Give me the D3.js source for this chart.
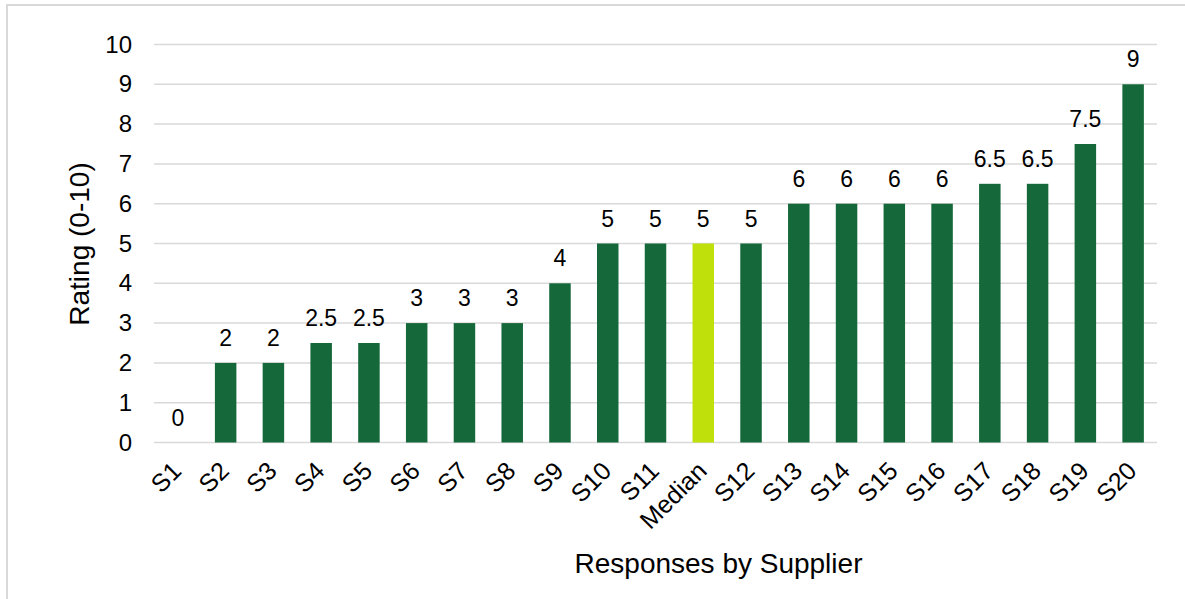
<!DOCTYPE html>
<html>
<head>
<meta charset="utf-8">
<script src="https://cdn.jsdelivr.net/npm/d3@7"></script>
<style>
  html, body { margin: 0; padding: 0; background: #fff; }
  svg { display: block; font-family: "Liberation Sans", Arial, sans-serif; }
</style>
</head>
<body>
<svg id="chart" width="1185" height="599"></svg>
<script>
// Supplier ratings, sorted ascending with the median slotted in
const categories = ["S1","S2","S3","S4","S5","S6","S7","S8","S9","S10","S11","Median","S12","S13","S14","S15","S16","S17","S18","S19","S20"];
const ratings    = [0, 2, 2, 2.5, 2.5, 3, 3, 3, 4, 5, 5, 5, 5, 6, 6, 6, 6, 6.5, 6.5, 7.5, 9];
const yTicks     = [0,1,2,3,4,5,6,7,8,9,10];
const highlight  = "Median";

const svg = d3.select("#chart");
const W = 1185, H = 599;
const plot = { left: 154, right: 1157, top: 44.5, bottom: 442.5 };

const barColor = "#14683A";
const medianColor = "#BFE00A";
const gridColor = "#D9D9D9";
const fontFamily = "Liberation Sans, Arial, sans-serif";

// outer frame
svg.append("rect")
  .attr("x", 7).attr("y", 5)
  .attr("width", W + 20).attr("height", H + 20)
  .attr("fill", "none").attr("stroke", gridColor).attr("stroke-width", 2);

const x = d3.scaleBand().domain(categories).range([plot.left, plot.right]).paddingInner(0.55).paddingOuter(0.275);
const y = d3.scaleLinear().domain([0, 10]).range([plot.bottom, plot.top]);

// gridlines
svg.append("g").selectAll("line").data(yTicks).join("line")
  .attr("x1", plot.left).attr("x2", plot.right)
  .attr("y1", d => y(d)).attr("y2", d => y(d))
  .attr("stroke", gridColor).attr("stroke-width", 1.5);

// y axis labels
const yAxis = d3.axisLeft(y).tickValues(yTicks).tickSize(0).tickPadding(0);
const gy = svg.append("g").attr("transform", `translate(${plot.left - 22},0)`).call(yAxis);
gy.select(".domain").remove();
gy.selectAll("text").attr("font-size", 24).attr("fill", "#000").attr("font-family", fontFamily);

// bars
const data = categories.map((c, i) => ({ c, v: ratings[i] }));
svg.append("g").selectAll("rect").data(data).join("rect")
  .attr("x", d => x(d.c))
  .attr("width", x.bandwidth())
  .attr("y", d => y(d.v))
  .attr("height", d => y(0) - y(d.v))
  .attr("fill", d => d.c === highlight ? medianColor : barColor);

// value labels
svg.append("g").selectAll("text").data(data).join("text")
  .attr("x", d => x(d.c) + x.bandwidth() / 2)
  .attr("y", d => y(d.v) - 17)
  .attr("text-anchor", "middle")
  .attr("font-size", 23)
  .attr("fill", "#000")
  .text(d => d.v);

// x axis labels, rotated
const xAxis = d3.axisBottom(x).tickSize(0).tickPadding(0);
const gx = svg.append("g").attr("transform", `translate(0,${plot.bottom})`).call(xAxis);
gx.select(".domain").remove();
gx.selectAll("text")
  .attr("font-size", 25).attr("fill", "#000")
  .attr("font-family", fontFamily)
  .attr("text-anchor", "end")
  .attr("dy", null).attr("y", null)
  .attr("transform", "translate(5,30) rotate(-45)");

// axis titles
svg.append("text")
  .attr("transform", `translate(88.5,244) rotate(-90)`)
  .attr("text-anchor", "middle")
  .attr("font-size", 28).attr("fill", "#000")
  .text("Rating (0-10)");

svg.append("text")
  .attr("x", 718.5).attr("y", 573)
  .attr("text-anchor", "middle")
  .attr("font-size", 28).attr("fill", "#000")
  .text("Responses by Supplier");
</script>
</body>
</html>
